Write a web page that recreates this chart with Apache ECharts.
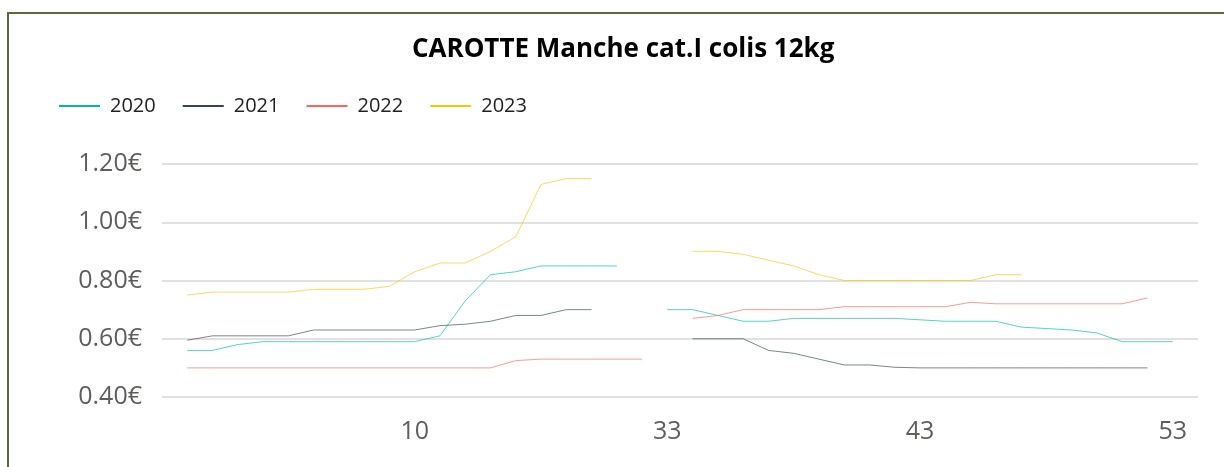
<!DOCTYPE html>
<html>
<head>
<meta charset="utf-8">
<script src="https://cdn.jsdelivr.net/npm/echarts@6/dist/echarts.min.js"></script>
<style>
    html, body { margin: 0; padding: 0; background: #fff; }
    #chart { width: 1224px; height: 467px; }
    #frame {
        position: absolute; left: 7px; top: 12px; width: 1240px; height: 480px;
        border-top: 2px solid #5a6b3c; border-left: 2px solid #5a6b3c;
        pointer-events: none;
    }
</style>
</head>
<body>
<div id="chart"></div>
<div id="frame"></div>
<script>
// semaines présentes dans les données (pas de semaines 20 à 32)
var weeks = [1, 2, 3, 4, 5, 6, 7, 8, 9, 10, 11, 12, 13, 14, 15, 16, 17, 18, 19,
    33, 34, 35, 36, 37, 38, 39, 40, 41, 42, 43, 44, 45, 46, 47, 48, 49, 50, 51, 52, 53];

var years = ['2020', '2021', '2022', '2023'];
var colors = ['#01B8AA', '#374649', '#FD625E', '#F2C80F'];

var prix2020 = [0.56, 0.56, 0.58, 0.59, 0.59, 0.59, 0.59, 0.59, 0.59, 0.59,
    0.61, 0.73, 0.82, 0.83, 0.85, 0.85, 0.85, 0.85, null,
    0.70, 0.70, 0.68, 0.66, 0.66, 0.67, 0.67, 0.67, 0.67, 0.67, 0.665,
    0.66, 0.66, 0.66, 0.64, 0.635, 0.63, 0.62, 0.59, 0.59, 0.59];

var prix2021 = [0.595, 0.61, 0.61, 0.61, 0.61, 0.63, 0.63, 0.63, 0.63, 0.63,
    0.645, 0.65, 0.66, 0.68, 0.68, 0.70, 0.70, null, null,
    null, 0.60, 0.60, 0.60, 0.56, 0.55, 0.53, 0.51, 0.51, 0.502, 0.50,
    0.50, 0.50, 0.50, 0.50, 0.50, 0.50, 0.50, 0.50, 0.50, null];

var prix2022 = [0.50, 0.50, 0.50, 0.50, 0.50, 0.50, 0.50, 0.50, 0.50, 0.50,
    0.50, 0.50, 0.50, 0.525, 0.53, 0.53, 0.53, 0.53, 0.53,
    null, 0.67, 0.68, 0.70, 0.70, 0.70, 0.70, 0.71, 0.71, 0.71, 0.71,
    0.71, 0.725, 0.72, 0.72, 0.72, 0.72, 0.72, 0.72, 0.74, null];

var prix2023 = [0.75, 0.76, 0.76, 0.76, 0.76, 0.77, 0.77, 0.77, 0.78, 0.83,
    0.86, 0.86, 0.90, 0.95, 1.13, 1.15, 1.15, null, null,
    null, 0.90, 0.90, 0.89, 0.87, 0.85, 0.82, 0.80, 0.80, 0.80, 0.80,
    0.80, 0.80, 0.82, 0.82, null, null, null, null, null, null];

var allPrix = [prix2020, prix2021, prix2022, prix2023];

var myChart = echarts.init(document.getElementById('chart'));

var series = years.map(function (year, i) {
    return {
        name: year,
        type: 'line',
        symbol: 'none',
        connectNulls: false,
        color: colors[i],
        lineStyle: { width: 1, opacity: 0.65 },
        data: allPrix[i].map(function (v, idx) { return [idx, v]; })
    };
});

var option = {
    animation: false,
    title: {
        text: 'CAROTTE Manche cat.I colis 12kg',
        left: 407,
        top: 32,
        textStyle: {
            fontFamily: 'Open Sans',
            fontWeight: 'bold',
            fontSize: 26,
            color: '#000'
        }
    },
    legend: {
        left: 54,
        top: 91,
        icon: 'rect',
        itemWidth: 41,
        itemHeight: 2,
        itemGap: 27,
        textStyle: {
            fontFamily: 'Open Sans',
            fontSize: 20,
            color: '#222',
            padding: [0, 0, 0, 5]
        },
        data: years
    },
    grid: { left: 162, right: 26, top: 164, bottom: 70 },
    xAxis: {
        type: 'value',
        min: -1,
        max: weeks.length,
        interval: 1,
        axisLine: { show: false },
        axisTick: { show: false },
        splitLine: { show: false },
        axisLabel: {
            margin: 22,
            fontFamily: 'Open Sans',
            fontSize: 25,
            color: '#605E5C',
            formatter: function (v) {
                // une étiquette toutes les 10 semaines
                return (v >= 0 && v % 10 === 9) ? String(weeks[v]) : '';
            }
        }
    },
    yAxis: {
        type: 'value',
        min: 0.4,
        max: 1.2,
        interval: 0.2,
        axisLine: { show: false },
        axisTick: { show: false },
        splitLine: { lineStyle: { color: '#E1E1E1', width: 2 } },
        axisLabel: {
            margin: 20,
            fontFamily: 'Open Sans',
            fontSize: 25,
            color: '#605E5C',
            formatter: function (v) { return v.toFixed(2) + '€'; }
        }
    },
    series: series
};

myChart.setOption(option);
</script>
</body>
</html>
